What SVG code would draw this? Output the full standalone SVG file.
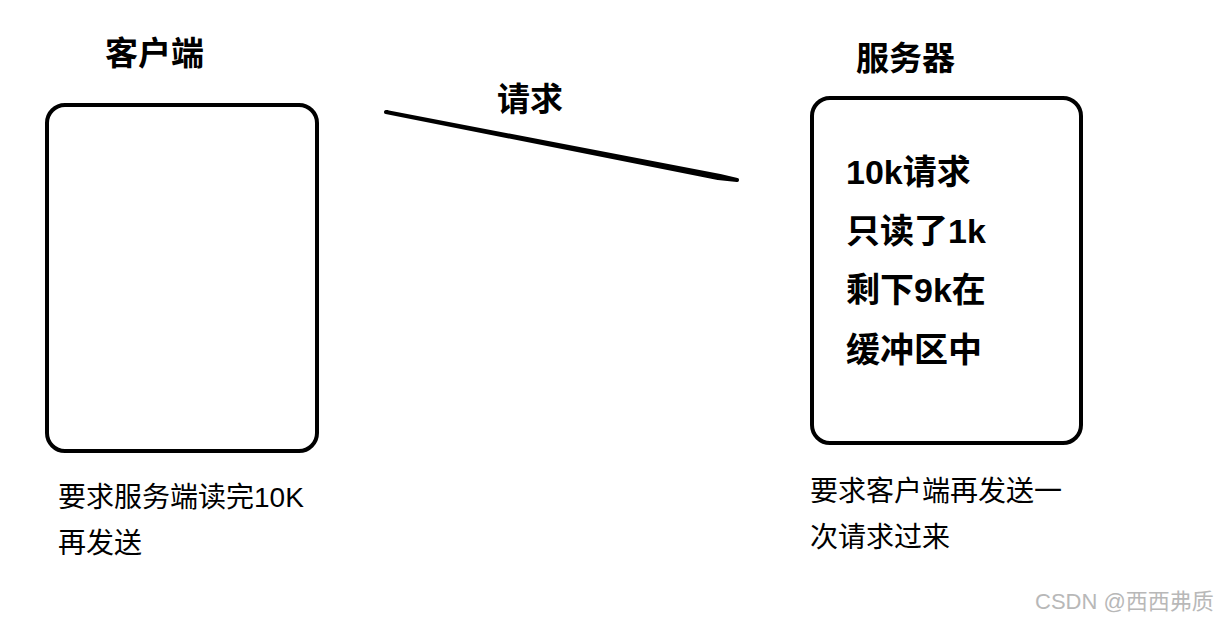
<svg xmlns="http://www.w3.org/2000/svg" width="1221" height="620" viewBox="0 0 1221 620">
<style>
.box{fill:#fff;stroke:#000;stroke-width:4}
.t{font-family:"Liberation Sans","Noto Sans CJK SC",sans-serif;fill:#000}
.b{font-weight:bold;font-size:33px}
.i{font-weight:bold;font-size:34px}
.n{font-size:28px}
.w{font-family:"Liberation Sans","Noto Sans CJK SC",sans-serif;font-size:22px;fill:#b8b8b8}
</style>
<rect width="1221" height="620" fill="#fff"/>
<g id="client">
<rect class="box" x="47" y="105" width="270" height="346" rx="18"/>
<text class="t b" x="105" y="65">客户端</text>
<text class="t n" x="58" y="507">要求服务端读完10K</text>
<text class="t n" x="58" y="553">再发送</text>
</g>
<g id="server">
<rect class="box" x="812" y="98" width="269" height="345" rx="18"/>
<text class="t b" x="856" y="70">服务器</text>
<text class="t i" x="846" y="184">10k请求</text>
<text class="t i" x="846" y="243">只读了1k</text>
<text class="t i" x="846" y="302">剩下9k在</text>
<text class="t i" x="846" y="362">缓冲区中</text>
<text class="t n" x="810" y="501">要求客户端再发送一</text>
<text class="t n" x="810" y="547">次请求过来</text>
</g>
<g id="connectors">
<path d="M386,112 L720,176 L737,180 L718,178 Z" fill="#000" stroke="#000" stroke-width="4" stroke-linejoin="round"/>
<text class="t b" x="497" y="111">请求</text>
</g>
<text class="w" x="1035" y="609">CSDN @西西弗质</text>
</svg>
